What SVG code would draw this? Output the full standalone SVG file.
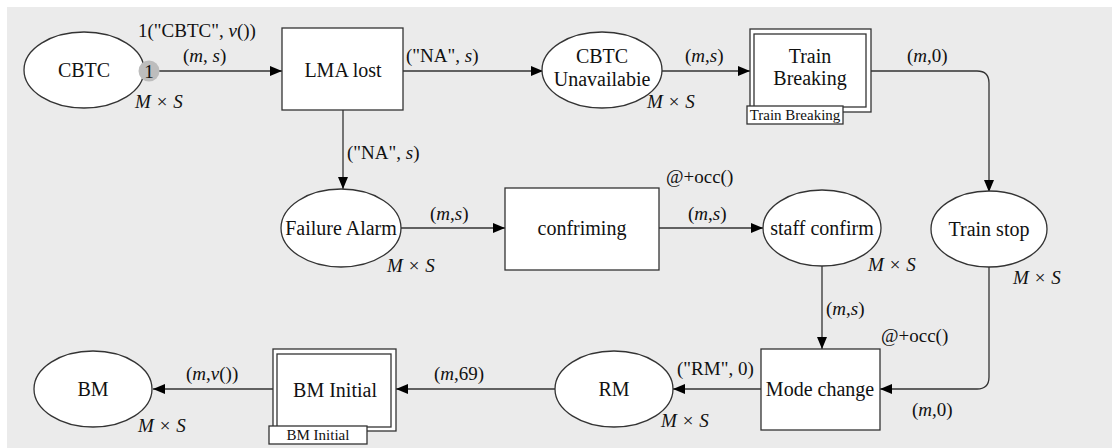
<svg xmlns="http://www.w3.org/2000/svg" width="1112" height="448" viewBox="0 0 1112 448" font-family="'Liberation Serif', 'DejaVu Serif', serif">
<defs>
<marker id="ah" viewBox="0 0 12 10" refX="12" refY="5" markerWidth="12" markerHeight="10" markerUnits="userSpaceOnUse" orient="auto">
<path d="M0,0 L12,5 L0,10 z" fill="#000"/>
</marker>
</defs>
<style>
text{font-family:'Liberation Serif','DejaVu Serif',serif;fill:#111}
.n{font-size:20px;text-anchor:middle}
.l{font-size:19px}
.tag{font-size:15px;text-anchor:middle}
.pl{fill:#fff;stroke:#333;stroke-width:1.3}
.tr{fill:#fff;stroke:#333;stroke-width:1.3}
.e{fill:none;stroke:#333;stroke-width:1.3;marker-end:url(#ah)}
.i{font-style:italic}
</style>
<rect x="7" y="7" width="1105" height="441" fill="#ebebeb"/>
<g id="connectors">
<path class="e" d="M159,71 H282"/>
<path class="e" d="M403,71 H543"/>
<path class="e" d="M662,71 H750"/>
<path class="e" d="M871,71 H977 Q989,71 989,83 V192"/>
<path class="e" d="M343,110 V189"/>
<path class="e" d="M401,228 H505"/>
<path class="e" d="M659,228 H763"/>
<path class="e" d="M822,266 V349"/>
<path class="e" d="M989,267 V377 Q989,389 977,389 H880"/>
<path class="e" d="M761,389 H673"/>
<path class="e" d="M555,389 H396"/>
<path class="e" d="M273,389 H153"/>
<text class="l" x="138" y="37">1("CBTC", <tspan class="i">v</tspan>())</text>
<text class="l" x="183" y="62">(<tspan class="i">m</tspan>, <tspan class="i">s</tspan>)</text>
<text class="l" x="406" y="62">("NA", <tspan class="i">s</tspan>)</text>
<text class="l" x="685" y="62">(<tspan class="i">m</tspan>,<tspan class="i">s</tspan>)</text>
<text class="l" x="907" y="62">(<tspan class="i">m</tspan>,0)</text>
<text class="l" x="347" y="159">("NA", <tspan class="i">s</tspan>)</text>
<text class="l" x="430" y="220">(<tspan class="i">m</tspan>,<tspan class="i">s</tspan>)</text>
<text class="l" x="688" y="220">(<tspan class="i">m</tspan>,<tspan class="i">s</tspan>)</text>
<text class="l" x="826" y="315">(<tspan class="i">m</tspan>,<tspan class="i">s</tspan>)</text>
<text class="l" x="912" y="416">(<tspan class="i">m</tspan>,0)</text>
<text class="l" x="677" y="375">("RM", 0)</text>
<text class="l" x="434" y="380">(<tspan class="i">m</tspan>,69)</text>
<text class="l" x="186" y="380">(<tspan class="i">m</tspan>,<tspan class="i">v</tspan>())</text>
</g>
<g id="CBTC">
<ellipse class="pl" cx="84" cy="70" rx="60" ry="38"/>
<text class="n" x="84" y="77">CBTC</text>
<text class="l i" x="135" y="108">M × S</text>
<circle cx="149" cy="71" r="10.5" fill="#bdbdbd"/>
<text x="149" y="78" font-size="19" text-anchor="middle">1</text>
</g>
<g id="LMA_lost">
<rect class="tr" x="282" y="28" width="121" height="82"/>
<text class="n" x="343" y="77">LMA lost</text>
</g>
<g id="CBTC_Unavailable">
<ellipse class="pl" cx="602" cy="70" rx="60" ry="38"/>
<text class="n" x="602" y="63">CBTC</text>
<text class="n" x="602" y="86">Unavailabie</text>
<text class="l i" x="647" y="108">M × S</text>
</g>
<g id="Train_Breaking">
<rect class="tr" x="750" y="29" width="121" height="83"/>
<rect class="tr" x="754" y="34" width="112" height="73"/>
<text class="n" x="810" y="63">Train</text>
<text class="n" x="810" y="85">Breaking</text>
<rect class="tr" x="747" y="106" width="96" height="18"/>
<text class="tag" x="795" y="120">Train Breaking</text>
</g>
<g id="Failure_Alarm">
<ellipse class="pl" cx="341" cy="228" rx="60" ry="39"/>
<text class="n" x="341" y="235">Failure Alarm</text>
<text class="l i" x="387" y="272">M × S</text>
</g>
<g id="confriming">
<rect class="tr" x="505" y="188" width="154" height="82"/>
<text class="n" x="582" y="235">confriming</text>
<text class="l" x="666" y="183">@+occ()</text>
</g>
<g id="staff_confirm">
<ellipse class="pl" cx="822" cy="228" rx="59" ry="38"/>
<text class="n" x="822" y="235">staff confirm</text>
<text class="l i" x="868" y="271">M × S</text>
</g>
<g id="Train_stop">
<ellipse class="pl" cx="989" cy="229" rx="58" ry="38"/>
<text class="n" x="989" y="236">Train stop</text>
<text class="l i" x="1013" y="284">M × S</text>
</g>
<g id="Mode_change">
<rect class="tr" x="761" y="349" width="119" height="81"/>
<text class="n" x="820" y="396">Mode change</text>
<text class="l" x="881" y="342">@+occ()</text>
</g>
<g id="RM">
<ellipse class="pl" cx="614" cy="389" rx="59" ry="38"/>
<text class="n" x="614" y="396">RM</text>
<text class="l i" x="661" y="427">M × S</text>
</g>
<g id="BM_Initial">
<rect class="tr" x="273" y="349" width="123" height="82"/>
<rect class="tr" x="277" y="354" width="114" height="73"/>
<text class="n" x="335" y="397">BM Initial</text>
<rect class="tr" x="269" y="426" width="98" height="18"/>
<text class="tag" x="318" y="440">BM Initial</text>
</g>
<g id="BM">
<ellipse class="pl" cx="93" cy="389" rx="59" ry="38"/>
<text class="n" x="93" y="396">BM</text>
<text class="l i" x="138" y="432">M × S</text>
</g>
</svg>
